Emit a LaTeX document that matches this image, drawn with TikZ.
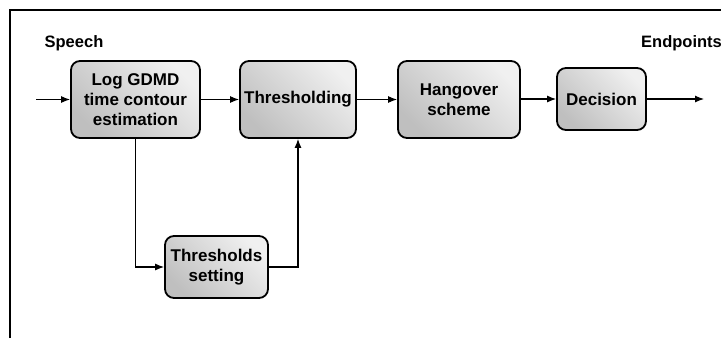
\documentclass[tikz,border=0pt]{standalone}
\usepackage{fontspec}
\setmainfont{Liberation Sans}
\usetikzlibrary{arrows.meta}
\begin{document}
\begin{tikzpicture}[x=1pt,y=-1pt,
  blk/.style={draw=black, line width=1.8pt, rounded corners=9pt, inner sep=0pt,
    top color=gray!12, bottom color=gray!50, shading angle=-45,
    align=center, font=\fontsize{17}{20}\selectfont\bfseries},
  lbl/.style={font=\fontsize{16.5}{20}\selectfont\bfseries, inner sep=0pt},
  conn/.style={line width=1.1pt, -{Latex[length=9pt,width=7pt]}},
  frame/.style={line width=1.8pt}]
\useasboundingbox (0,0) rectangle (721,338);
\draw[frame] (10,338) -- (10,10) -- (721,10);
\node[blk, minimum width=129pt, minimum height=77pt] (b1) at (135.5,99.5) {Log GDMD\\time contour\\estimation};
\node[blk, minimum width=116pt, minimum height=77pt] (b2) at (298,99.5) {Thresholding};
\node[blk, minimum width=122pt, minimum height=77pt] (b3) at (459,99.5) {Hangover\\scheme};
\node[blk, minimum width=89pt, minimum height=62pt] (b4) at (601.5,99) {Decision};
\node[blk, minimum width=103pt, minimum height=62pt] (b5) at (216.5,267) {Thresholds\\setting};
\node[lbl] (sp) at (74,43) {Speech};
\node[lbl, anchor=west] (ep) at (641,43) {Endpoints};
\coordinate (in) at (36,99.5);
\coordinate (out) at (704,99);
\draw[conn] (in) -- (b1.west);
\draw[conn] (b1) -- (b2);
\draw[conn] (b2) -- (b3);
\draw[conn] (b3.east |- b4.west) -- (b4.west);
\draw[conn] (b4.east) -- (out);
\draw[conn] (b1.south) |- (b5.west);
\draw[conn] (b5.east) -| (b2.south);
\end{tikzpicture}
\end{document}
